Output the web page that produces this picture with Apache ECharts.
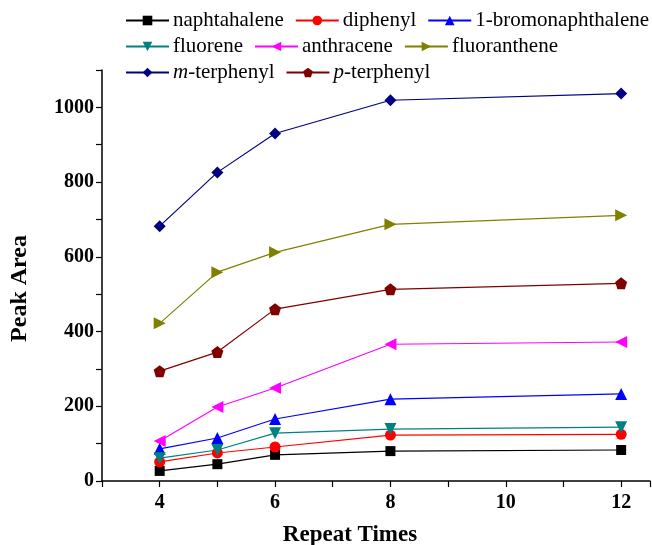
<!DOCTYPE html>
<html><head><meta charset="utf-8">
<script src="https://cdn.jsdelivr.net/npm/echarts@6/dist/echarts.min.js"></script>
<style>html,body{margin:0;padding:0;background:#fff}#c{width:652px;height:545px}</style>
</head><body><div id="c"></div>
<script>
const xValues = [4, 5, 6, 8, 12];
const seriesNames = ['naphtahalene','diphenyl','1-bromonaphthalene','fluorene','anthracene','fluoranthene','m-terphenyl','p-terphenyl'];
const naphthalene = [27, 45, 70, 80, 83];
const diphenyl = [51, 75, 91, 123, 125];
const bromonaphthalene = [86, 115, 166, 219, 233];
const fluorene = [61, 83, 128, 139, 144];
const anthracene = [107, 198, 249, 366, 372];
const fluoranthene = [422, 559, 612, 687, 711];
const mTerphenyl = [682, 826, 930, 1019, 1037];
const pTerphenyl = [294, 345, 460, 513, 529];
const xTickLabels = [4, 6, 8, 10, 12];
const yTickLabels = [0, 200, 400, 600, 800, 1000];

const values = [naphthalene, diphenyl, bromonaphthalene, fluorene, anthracene, fluoranthene, mTerphenyl, pTerphenyl];
const colors = ['#000000','#ff0000','#0000ff','#008080','#ff00ff','#808000','#000080','#800000'];
const symbols = ['rect','circle','triangle','triangle','triangle','triangle','diamond','path://M0,-10 L9.51,-3.09 L5.88,8.09 L-5.88,8.09 L-9.51,-3.09 Z'];
const rotates = [0,0,0,180,90,-90,0,0];
const sizes = [10,11,12,12,12,12,12,12];

const chart = echarts.init(document.getElementById('c'));
const serif = 'Liberation Serif, Times New Roman, serif';
const legendBase = {
  orient: 'horizontal', itemWidth: 43, itemHeight: 12, itemGap: 11, width: 560, padding: 0,
  textStyle: { fontFamily: serif, fontSize: 21, color: '#000', padding: [0,0,0,-1],
    rich: { i: { fontFamily: serif, fontSize: 21, fontStyle: 'italic', color: '#000' } } },
  formatter: function(n){ if(n==='m-terphenyl') return '{i|m}-terphenyl'; if(n==='p-terphenyl') return '{i|p}-terphenyl'; return n; },
  symbolRotate: 'inherit'
};
chart.setOption({
  animation: false,
  grid: { left: 102, right: 2, top: 70, bottom: 64, outerBoundsMode: 'none', containLabel: false },
  legend: [
    Object.assign({}, legendBase, { left: 125, top: 10, data: seriesNames.slice(0,3) }),
    Object.assign({}, legendBase, { left: 125, top: 36, data: seriesNames.slice(3,6) }),
    Object.assign({}, legendBase, { left: 125, top: 62, data: seriesNames.slice(6,8) })
  ],
  xAxis: {
    type: 'value', min: 3, max: 12.5, interval: 1,
    name: 'Repeat Times', nameLocation: 'middle', nameGap: 43,
    nameTextStyle: { fontFamily: serif, fontSize: 23, fontWeight: 'bold', color: '#000', padding: [0, 52, 0, 0] },
    axisLine: { onZero: false, lineStyle: { color: '#000', width: 1.5 } },
    axisTick: { show: true, length: 6, inside: false, lineStyle: { color: '#000', width: 1.2 } },
    axisLabel: { fontFamily: serif, fontSize: 20, fontWeight: 'bold', color: '#000', margin: 12,
      formatter: function(v){ return xTickLabels.indexOf(v) >= 0 ? String(v) : ''; } },
    splitLine: { show: false }
  },
  yAxis: {
    type: 'value', min: 0, max: 1100, interval: 100,
    name: 'Peak Area', nameLocation: 'middle', nameGap: 70,
    nameTextStyle: { fontFamily: serif, fontSize: 24, fontWeight: 'bold', color: '#000', padding: [0, 26, 0, 0] },
    axisLine: { show: true, lineStyle: { color: '#000', width: 1.5 } },
    axisTick: { show: true, length: 6, lineStyle: { color: '#000', width: 1.2 } },
    axisLabel: { fontFamily: serif, fontSize: 20, fontWeight: 'bold', color: '#000', margin: 8,
      formatter: function(v){ return yTickLabels.indexOf(v) >= 0 ? String(v) : ''; } },
    splitLine: { show: false }
  },
  series: seriesNames.map(function(n, i){
    return {
      name: n, type: 'line',
      data: xValues.map(function(x, j){ return [x, values[i][j]]; }),
      symbol: symbols[i], symbolSize: sizes[i], symbolRotate: rotates[i],
      lineStyle: { color: colors[i], width: 1.2 },
      itemStyle: { color: colors[i] }
    };
  })
});
</script></body></html>
